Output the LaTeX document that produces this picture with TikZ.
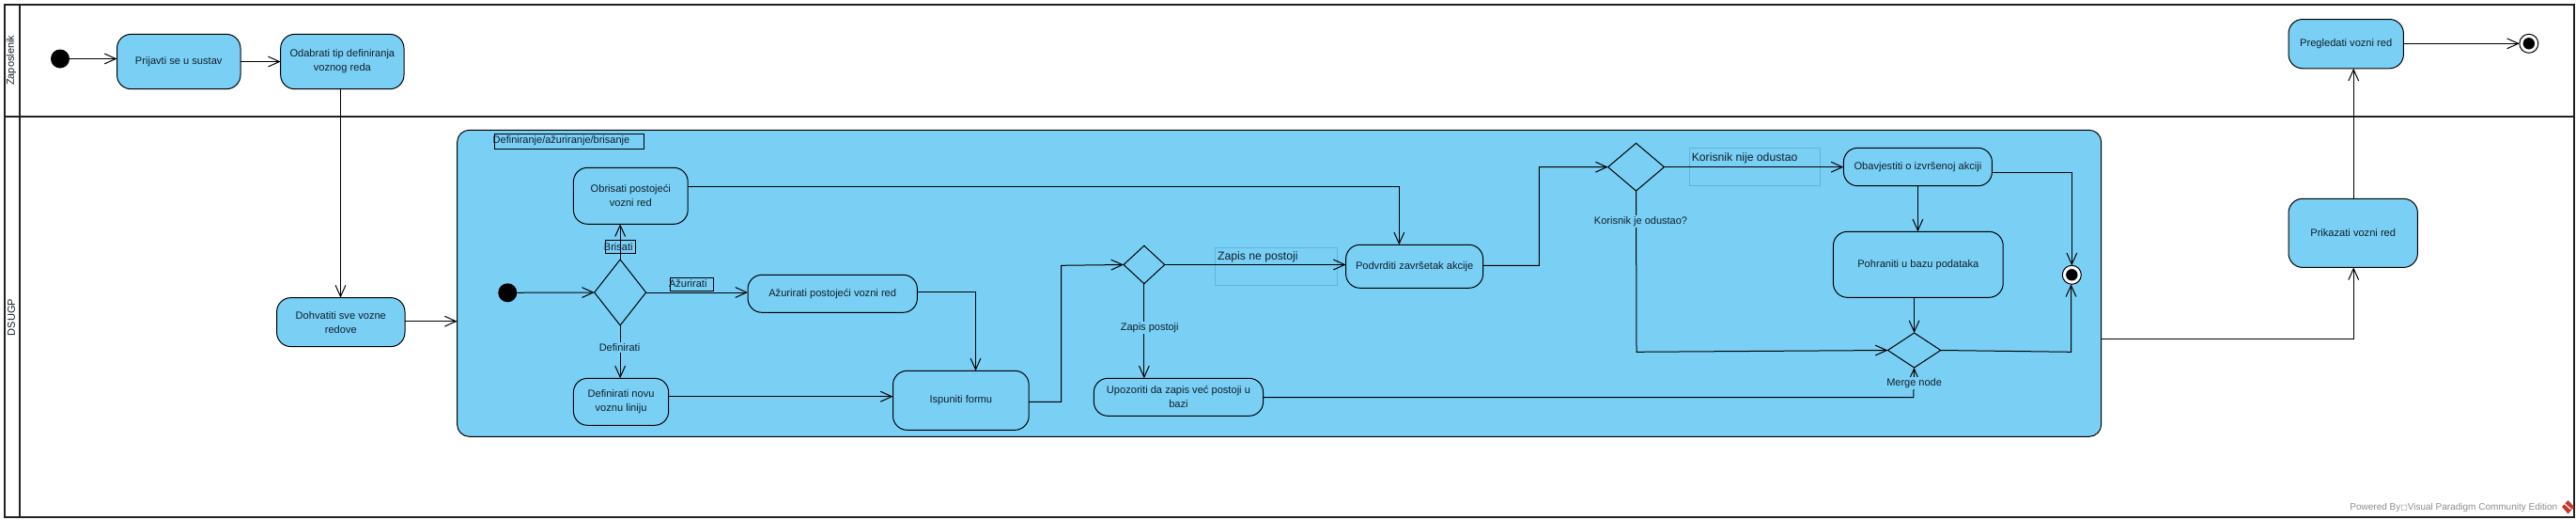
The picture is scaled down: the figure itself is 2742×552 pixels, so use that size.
\documentclass[tikz,border=0pt]{standalone}
\usepackage{fontspec}
\setmainfont{Liberation Sans}
\newfontfamily\symfont{DejaVu Sans}
\usetikzlibrary{arrows.meta,shapes.geometric}
\definecolor{actfill}{HTML}{7ACFF5}
\definecolor{lanecol}{HTML}{222222}
\definecolor{inkcol}{HTML}{10202C}
\definecolor{faintbox}{HTML}{62B3DC}
\definecolor{logored}{HTML}{C8362E}
\tikzset{
  wire/.style={line width=.5pt,draw=black},
  flow/.style={wire,-{Straight Barb[length=6pt,width=5.4pt,line width=.5pt]}},
  lane/.style={draw=lanecol,line width=1pt},
  actbox/.style={draw=black,fill=actfill,line width=.5pt,rounded corners=7.5pt,inner sep=0pt,outer sep=0pt,align=center,text=inkcol,font=\fontsize{5.55}{7.5}\selectfont},
  gate/.style={draw=black,fill=actfill,line width=.5pt,shape=diamond,inner sep=0pt,outer sep=0pt},
  startdot/.style={circle,fill=black,inner sep=0pt,outer sep=0pt,minimum size=10pt},
  endring/.style={circle,draw=black,fill=white,line width=.5pt,inner sep=0pt,outer sep=0pt,minimum size=10pt},
  enddot/.style={circle,fill=black,inner sep=0pt,outer sep=0pt,minimum size=6.2pt},
  guard/.style={fill=actfill,inner sep=.6pt,text=inkcol,font=\fontsize{5.5}{7}\selectfont},
  tagbox/.style={draw=black,line width=.5pt,inner sep=0pt,outer sep=0pt,text=inkcol,font=\fontsize{5.5}{7}\selectfont},
  softbox/.style={draw=faintbox,line width=.5pt,inner sep=0pt,outer sep=0pt,text=inkcol,font=\fontsize{6.1}{7}\selectfont},
  lanetext/.style={rotate=90,text=inkcol,font=\fontsize{5.5}{7}\selectfont},
}
% name x1 y1 x2 y2 text
\newcommand\actnode[6]{\node[actbox,minimum width={(#4-#2)*0.5pt},minimum height={(#5-#3)*0.5pt}] (#1) at ({(#2+#4)/2},{(#3+#5)/2}) {#6};}
% name x1 y1 x2 y2
\newcommand\gatenode[5]{\pgfmathsetmacro\gateaspect{(#4-#2)/(#5-#3)}\node[gate,shape aspect=\gateaspect,minimum width={(#4-#2)*0.5pt},minimum height={(#5-#3)*0.5pt}] (#1) at ({(#2+#4)/2},{(#3+#5)/2}) {};}
% style name x1 y1 x2 y2 dx dy text : text starts dx (pt) right of box centre, baseline dy (pt) above it
\newcommand\tagnode[9]{\node[#1,minimum width={(#5-#3)*0.5pt},minimum height={(#6-#4)*0.5pt}] (#2) at ({(#3+#5)/2},{(#4+#6)/2}) {\smash{\makebox[0pt][l]{\hspace*{#7pt}\raisebox{#8pt}{#9}}}};}
\begin{document}
\begin{tikzpicture}[x=0.5pt,y=-0.5pt]
\useasboundingbox (0,0) rectangle (2742,552);
% lanes
\draw[lane] (5,5) rectangle (2740,550);
\draw[lane] (5,124) -- (2740,124);
\draw[lane] (20.5,5) -- (20.5,550);
\node[lanetext] (laneA) at (12,64.3) {Zaposlenik};
\node[lanetext] (laneB) at (12,337.5) {DSUGP};
% outer activities
\node[startdot] (s1) at (64,62.5) {};
\actnode{prijava}{124.5}{36.4}{256}{94.7}{Prijavti se u sustav}
\actnode{odabir}{298.7}{36.4}{430}{94.7}{Odabrati tip definiranja\\voznog reda}
\actnode{dohvat}{294.6}{316.6}{431}{368.6}{Dohvatiti sve vozne\\redove}
\actnode{pregled}{2436}{20.5}{2558.4}{72.8}{Pregledati vozni red}
\actnode{prikaz}{2436}{211.3}{2573.4}{284.4}{Prikazati vozni red}
\node[endring] (f2) at (2691.8,46.3) {};
\node[enddot] (f2i) at (2691.8,46.3) {};
% containing action
\node[actbox,rounded corners=6.5pt,minimum width={(2236.7-486.6)*0.5pt},minimum height={(464.3-138.3)*0.5pt}] (frame) at ({(486.6+2236.7)/2},{(138.3+464.3)/2}) {};
\tagnode{tagbox}{ttl}{526.4}{142.3}{685}{158.3}{-40.5}{-.9}{Definiranje/ažuriranje/brisanje}
% inner nodes
\node[startdot] (s2) at (540.3,311.3) {};
\gatenode{g1}{632.7}{276}{687.6}{346}
\actnode{obrisati}{610.4}{178.3}{732.2}{238.3}{Obrisati postojeći\\vozni red}
\actnode{azurirati}{796}{292.3}{976.4}{332.3}{Ažurirati postojeći vozni red}
\actnode{definirati}{610.4}{402.3}{711.7}{452.3}{Definirati novu\\voznu liniju}
\actnode{ispuniti}{950.5}{394.3}{1095.2}{457.3}{Ispuniti formu}
\gatenode{g2}{1196}{261.3}{1239.7}{301.7}
\actnode{upozoriti}{1164.3}{402.3}{1344.6}{442.3}{Upozoriti da zapis već postoji u\\bazi}
\actnode{podvrditi}{1432.6}{260.3}{1578.6}{306.3}{Podvrditi završetak akcije}
\gatenode{g3}{1711.6}{152.3}{1771.4}{203}
\actnode{obavijest}{1962.4}{157.3}{2120.4}{197.7}{Obavjestiti o izvršenoj akciji}
\actnode{pohrana}{1951.4}{246.3}{2132.2}{316.3}{Pohraniti u bazu podataka}
\gatenode{g4}{2009.4}{354}{2065.7}{391}
\node[endring] (f1) at (2205.3,292.3) {};
\node[enddot] (f1i) at (2205.3,292.3) {};
% boxed guards
\tagnode{softbox}{zne}{1293.3}{263.3}{1423.7}{303.3}{-31.2}{3.2}{Zapis ne postoji}
\tagnode{softbox}{kno}{1798.4}{157.3}{1937.6}{197.7}{-33.6}{3.2}{Korisnik nije odustao}
% elbow points
\coordinate (e0) at (362.5,200);
\coordinate (e1) at (1038.5,310.3);
\coordinate (e2) at (1129.5,282.3);
\coordinate (e3) at (1489.3,198.7);
\coordinate (e4) at (1638.4,177.7);
\coordinate (e5) at (2205.3,183.3);
\coordinate (e6) at (2204.5,374.3);
\coordinate (e7) at (2036.8,422.7);
\coordinate (e8) at (1742,374.3);
\coordinate (e9) at (2505.2,360);
% connectors
\draw[flow] (s1) -- (prijava.west |- s1);
\draw[flow] (prijava) -- (odabir);
\draw[flow] (e0 |- odabir.south) -- (e0 |- dohvat.north);
\draw[flow] (dohvat.east |- 0,341.7) -- (frame.west |- 0,341.7);
\draw[flow] (s2) -- (g1.west);
\draw[flow] (g1.north) -- (obrisati.south -| g1.north);
\draw[flow] (g1.east) -- (azurirati.west |- g1.east);
\draw[flow] (g1.south) -- (definirati.north -| g1.south);
\draw[flow] (azurirati.east |- e1) -- (e1) -- (e1 |- ispuniti.north);
\draw[flow] (definirati.east |- 0,421.7) -- (ispuniti.west |- 0,421.7);
\draw[flow] (ispuniti.east |- 0,427.3) -- (e2 |- 0,427.3) -- (e2) -- (g2.west);
\draw[flow] (g2.east) -- (podvrditi.west |- g2.east);
\draw[flow] (g2.south) -- (upozoriti.north -| g2.south);
\draw[flow] (obrisati.east |- e3) -- (e3) -- (e3 |- podvrditi.north);
\draw[flow] (podvrditi.east |- 0,282.3) -- (e4 |- 0,282.3) -- (e4) -- (g3.west);
\draw[flow] (g3.east) -- (obavijest.west |- g3.east);
\draw[flow] (g3.south) -- (e8) -- (g4.west);
\draw[flow] (obavijest.south) -- (pohrana.north -| obavijest.south);
\draw[flow] (pohrana.south -| g4.north) -- (g4.north);
\draw[flow] (obavijest.east |- e5) -- (e5) -- (f1.north);
\draw[flow] (g4.east) -- (e6) -- (f1.south -| e6);
\draw[flow] (upozoriti.east |- e7) -- (e7) -- (g4.south);
\draw[flow] (frame.east |- e9) -- (e9) -- (e9 |- prikaz.south);
\draw[flow] (e9 |- prikaz.north) -- (e9 |- pregled.south);
\draw[flow] (pregled.east |- f2) -- (f2.west);
% guard labels
\tagnode{tagbox}{tbr}{644.3}{255.3}{676.4}{269.3}{-8.7}{-1.9}{Brisati}
\tagnode{tagbox}{taz}{713.5}{295.3}{759.5}{309.3}{-12.2}{-1.4}{Ažurirati}
\node[guard] (gdef) at (659.5,369.3) {Definirati};
\node[guard] (gzp) at (1223.7,348.3) {Zapis postoji};
\node[guard] (gko) at (1746.5,235.3) {Korisnik je odustao?};
\node[guard] (gme) at (2037.6,407.3) {Merge node};
% watermark
\node[anchor=west,inner sep=0pt,text=black!45,font=\fontsize{5}{7}\selectfont] (wm) at (2501,539.6) {Powered By{\symfont\fontsize{4}{7}\selectfont □}Visual Paradigm Community Edition};
\fill[logored] (2733.5,532) -- (2740,539) -- (2733.5,546.5) -- (2727,539) -- cycle;
\draw[white,line width=.6pt] (2729.5,535.5) -- (2736.5,541.5);
\end{tikzpicture}
\end{document}
